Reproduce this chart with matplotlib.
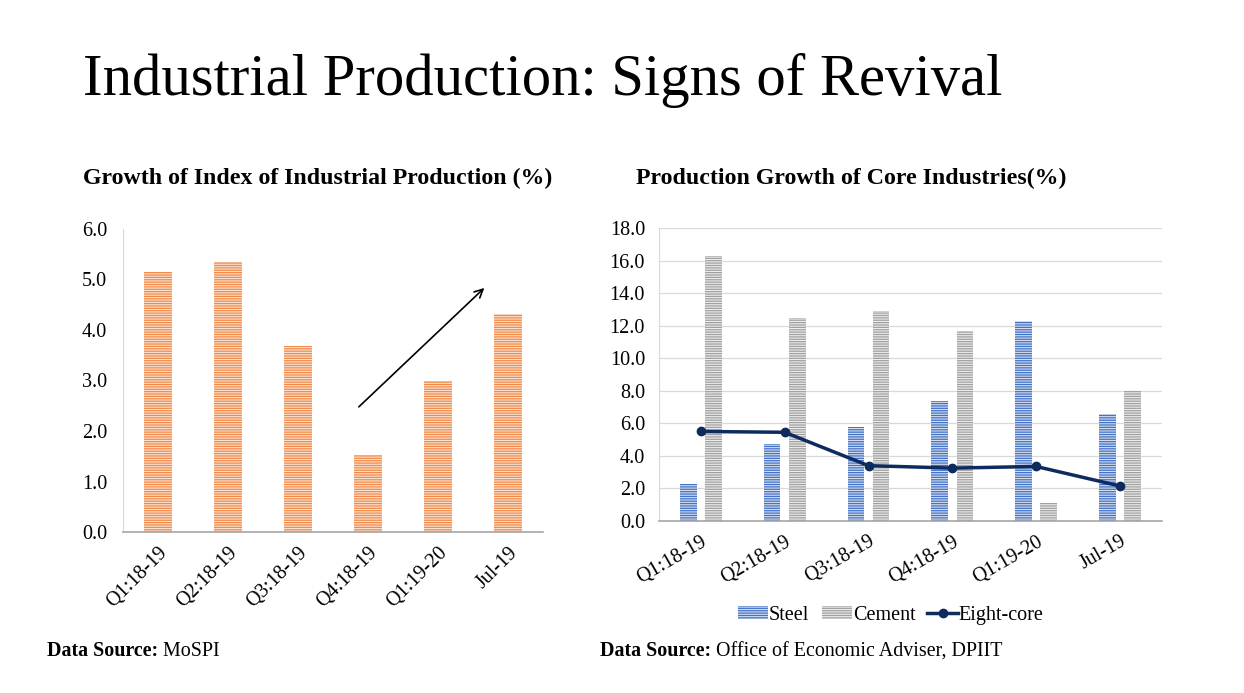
import numpy as np
import matplotlib.pyplot as plt

plt.rcParams['font.family'] = ['Liberation Serif', 'DejaVu Serif']
plt.rcParams['hatch.linewidth'] = 0.9

# data
iip_labels = ["Q1:18-19", "Q2:18-19", "Q3:18-19", "Q4:18-19", "Q1:19-20", "Jul-19"]
iip_growth = [5.15, 5.35, 3.68, 1.52, 2.99, 4.32]

core_labels = ["Q1:18-19", "Q2:18-19", "Q3:18-19", "Q4:18-19", "Q1:19-20", "Jul-19"]
steel = [2.3, 4.7, 5.8, 7.4, 12.3, 6.6]
cement = [16.3, 12.5, 12.9, 11.7, 1.1, 8.0]
eight_core = [5.5, 5.45, 3.4, 3.25, 3.35, 2.15]

fig = plt.figure(figsize=(12.44, 6.93), dpi=100)
fig.text(0.067, 0.863, "Industrial Production: Signs of Revival", fontsize=42.2, va='baseline')

# left chart
ax1 = fig.add_axes([0.0989, 0.2323, 0.3376, 0.4373])
x = np.arange(len(iip_labels))
ax1.bar(x, iip_growth, width=0.4, color='#fde2cf', edgecolor='#F08A4B',
        hatch='-------', linewidth=0)
ax1.set_xlim(-0.5, 5.5)
ax1.set_ylim(0, 6)
ticks1 = np.arange(0, 6.1, 1.0)
ax1.set_yticks(ticks1)
ax1.set_yticklabels([f"{v:.1f}" for v in ticks1])
ax1.set_xticks(x)
ax1.set_xticklabels(iip_labels, rotation=45, ha='right', rotation_mode='anchor')
ax1.tick_params(axis='y', length=0, pad=11.5, labelsize=14.5)
ax1.tick_params(axis='x', length=0, pad=8, labelsize=14.5)
for s in ['top', 'right']:
    ax1.spines[s].set_visible(False)
ax1.spines['left'].set_color('#d9d9d9')
ax1.spines['bottom'].set_color('#a6a6a6')
ax1.spines['bottom'].set_linewidth(1.2)
ax1.annotate('', xy=(4.69, 4.87), xytext=(2.84, 2.44),
             arrowprops=dict(arrowstyle='->', color='black', lw=1.2,
                             mutation_scale=15))
fig.text(0.067, 0.735, "Growth of Index of Industrial Production (%)",
         fontsize=17.2, fontweight='bold', va='baseline')

# right chart
ax2 = fig.add_axes([0.5297, 0.2482, 0.4043, 0.4228])
x2 = np.arange(len(core_labels))
b1 = ax2.bar(x2 - 0.15, steel, width=0.2, color='#d3ddf1', edgecolor='#4472C4',
             hatch='-------', linewidth=0, label='Steel')
b2 = ax2.bar(x2 + 0.15, cement, width=0.2, color='#ececec', edgecolor='#a0a0a0',
             hatch='-------', linewidth=0, label='Cement')
ln, = ax2.plot(x2, eight_core, color='#0d2b5e', lw=2.5, marker='o', markersize=6,
               label='Eight-core')
ax2.set_xlim(-0.5, 5.5)
ax2.set_ylim(0, 18)
ticks2 = np.arange(0, 18.1, 2.0)
ax2.set_yticks(ticks2)
ax2.set_yticklabels([f"{v:.1f}" for v in ticks2])
ax2.yaxis.grid(True, color='#d9d9d9', lw=0.9)
ax2.set_axisbelow(True)
ax2.set_xticks(x2)
ax2.set_xticklabels(core_labels, rotation=30, ha='right', rotation_mode='anchor')
ax2.tick_params(axis='y', length=0, pad=10, labelsize=14.5)
ax2.tick_params(axis='x', length=0, pad=8, labelsize=14.5)
for s in ['top', 'right']:
    ax2.spines[s].set_visible(False)
ax2.spines['left'].set_color('#d9d9d9')
ax2.spines['bottom'].set_color('#a6a6a6')
ax2.spines['bottom'].set_linewidth(1.2)
fig.legend([b1, b2, ln], ['Steel', 'Cement', 'Eight-core'], loc='center',
           bbox_to_anchor=(0.716, 0.112), ncol=3, frameon=False,
           fontsize=14.5, handlelength=1.5, handletextpad=0.05, columnspacing=0.6,
           handleheight=0.6)
fig.text(0.511, 0.735, "Production Growth of Core Industries(%)",
         fontsize=17.2, fontweight='bold', va='baseline')

# sources
t1 = fig.text(0.038, 0.046, "Data Source:", fontsize=14.4, fontweight='bold', va='bottom')
plt.annotate(" MoSPI", xy=(1, 0), xycoords=t1, fontsize=14.4, va='bottom',
             annotation_clip=False)
t2 = fig.text(0.482, 0.046, "Data Source:", fontsize=14.4, fontweight='bold', va='bottom')
plt.annotate(" Office of Economic Adviser, DPIIT", xy=(1, 0), xycoords=t2, fontsize=14.4,
             va='bottom', annotation_clip=False)

fig.savefig("out.png", dpi=100, facecolor='white')
